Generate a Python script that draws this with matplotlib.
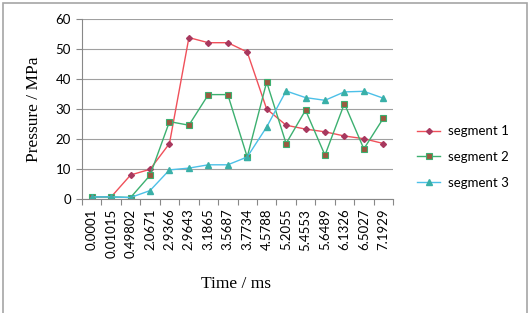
import numpy as np
import matplotlib.pyplot as plt
from matplotlib.patches import Rectangle

times = ["0.0001", "0.01015", "0.49802", "2.0671", "2.9366", "2.9643", "3.1865", "3.5687",
         "3.7734", "4.5788", "5.2055", "5.4553", "5.6489", "6.1326", "6.5027", "7.1929"]
seg1 = [0.7, 0.7, 8.0, 9.9, 18.5, 53.8, 52.1, 52.1, 49.0, 30.0, 24.6, 23.3, 22.4, 21.0, 20.1, 18.5]
seg2 = [0.7, 0.7, 0.5, 7.9, 25.8, 24.6, 34.8, 34.8, 14.0, 39.0, 18.5, 29.6, 14.6, 31.8, 16.7, 26.9]
seg3 = [0.7, 0.7, 0.5, 2.8, 9.7, 10.3, 11.4, 11.4, 14.0, 24.0, 36.0, 33.8, 32.9, 35.7, 35.9, 33.6]
names = ["segment 1", "segment 2", "segment 3"]

fig = plt.figure(figsize=(5.32, 3.13), dpi=100)
ax = fig.add_axes([82 / 532, 1 - 199 / 313, 311 / 532, 180 / 313])

x = np.arange(len(times))
ax.plot(x, seg1, color='#f0505a', lw=1.0, marker='D', ms=3.0,
        mfc='#a8385e', mec='#a8385e', label=names[0])
ax.plot(x, seg2, color='#3cb070', lw=1.0, marker='s', ms=4.2,
        mfc='#9a5a40', mec='#3cb070', mew=0.8, label=names[1])
ax.plot(x, seg3, color='#4cc0e8', lw=1.0, marker='^', ms=4.0,
        mfc='#3ab0a8', mec='#3ab0a8', label=names[2])

ax.set_xlim(-0.5, len(times) - 0.5)
ax.set_ylim(0, 60)
ax.set_yticks(range(0, 61, 10))
ax.set_xticks(x)
ax.set_xticklabels(times, rotation=90, fontsize=9.5, family='Lato')
ax.set_xticks(np.arange(-0.5, len(times), 1), minor=True)
ax.tick_params(axis='x', which='major', length=0, pad=7)
ax.tick_params(axis='x', which='minor', length=4, color='#888888', width=0.8)
ax.tick_params(axis='y', length=4, color='#888888', width=0.8, labelsize=9.5, pad=4)
for lab in ax.get_yticklabels():
    lab.set_family('Lato')

ax.grid(axis='y', color='#a0a0a0', lw=0.8)
ax.set_axisbelow(True)
for s in ['top', 'right']:
    ax.spines[s].set_visible(False)
for s in ['left', 'bottom']:
    ax.spines[s].set_color('#888888')
    ax.spines[s].set_linewidth(0.8)

ax.set_ylabel("Pressure / MPa", family='Liberation Serif', fontsize=12.5, labelpad=10)
fig.text(236 / 532, 1 - 284 / 313, "Time / ms", family='Liberation Serif',
         fontsize=12.5, ha='center', va='center')

leg = ax.legend(loc='center left', bbox_to_anchor=(417 / 532, 1 - 157 / 313),
                bbox_transform=fig.transFigure, frameon=False,
                prop={'family': 'Lato', 'size': 9.5}, handlelength=1.75,
                handletextpad=0.6, labelspacing=1.05, borderpad=0, borderaxespad=0)

fig.patches.append(Rectangle((3 / 532, -0.02), 524 / 532, 1 - 3 / 313 + 0.02,
                             transform=fig.transFigure, fill=False,
                             ec='#a6a6a6', lw=1.2))

fig.savefig("out.png", dpi=100)
